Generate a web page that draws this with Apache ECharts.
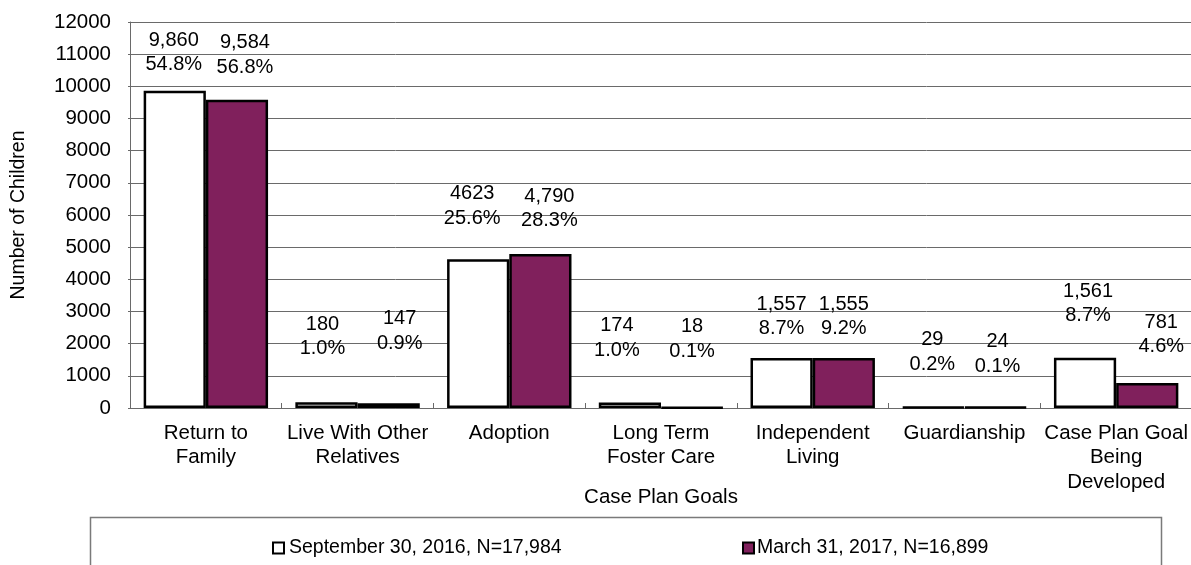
<!DOCTYPE html>
<html>
<head>
<meta charset="utf-8">
<script src="https://cdn.jsdelivr.net/npm/echarts@6/dist/echarts.min.js"></script>
<style>
html,body{margin:0;padding:0;background:#fff;}
#chart{width:1191px;height:565px;}
</style>
</head>
<body>
<div id="chart"></div>
<script>
// ---- data ----
var categories = ['Return to\nFamily', 'Live With Other\nRelatives', 'Adoption', 'Long Term\nFoster Care', 'Independent\nLiving', 'Guardianship', 'Case Plan Goal\nBeing\nDeveloped'];
var seriesNames = ['September 30, 2016, N=17,984', 'March 31, 2017, N=16,899'];
var sep2016 = [9860, 180, 4623, 174, 1557, 29, 1561];
var mar2017 = [9584, 147, 4790, 18, 1555, 24, 781];
var sep2016CountLabels = ['9,860', '180', '4623', '174', '1,557', '29', '1,561'];
var mar2017CountLabels = ['9,584', '147', '4,790', '18', '1,555', '24', '781'];
var sep2016Pct = ['54.8%', '1.0%', '25.6%', '1.0%', '8.7%', '0.2%', '8.7%'];
var mar2017Pct = ['56.8%', '0.9%', '28.3%', '0.1%', '9.2%', '0.1%', '4.6%'];
var yTicks = {min: 0, max: 12000, interval: 1000};
var yAxisTitle = 'Number of Children';
var xAxisTitle = 'Case Plan Goals';

// ---- label styling (manual label placement, like the source) ----
var sepLabelLift = [14, 41, 29, 40, 17, 30, 30];
var sepLabelShift = [-1, -4, -6, -13, 0, -1, 3];
var marLabelLift = [20, 48, 21, 43, 17, 28, 24];
var marLabelShift = [8, 11, 9, 0, 0, 2, 14];

var FONT = 'Liberation Sans, Arial, sans-serif';

function buildData(vals, counts, pcts, lift, shift) {
  return vals.map(function (v, i) {
    return {
      value: v,
      label: {
        formatter: counts[i] + '\n' + pcts[i],
        distance: lift[i],
        offset: [shift[i], 0]
      }
    };
  });
}

var chart = echarts.init(document.getElementById('chart'));
var labelBase = {
  show: true,
  position: 'top',
  color: '#000',
  fontFamily: FONT,
  fontSize: 20,
  lineHeight: 24.5,
  align: 'center'
};

var GRID = {left: 130, top: 22, width: 1062, height: 386};

chart.setOption({
  animation: false,
  backgroundColor: '#fff',
  grid: {left: GRID.left, top: GRID.top, width: GRID.width, height: GRID.height, containLabel: false, outerBoundsMode: 'none'},
  legend: [
    {
      data: [{name: seriesNames[0]}],
      left: 267, top: 533,
      itemWidth: 11, itemHeight: 11, itemGap: 0,
      icon: 'rect',
      textStyle: {fontFamily: FONT, fontSize: 19.5, color: '#000'}
    },
    {
      data: [{name: seriesNames[1]}],
      left: 737, top: 533,
      itemWidth: 11, itemHeight: 11, itemGap: 0,
      icon: 'rect',
      textStyle: {fontFamily: FONT, fontSize: 19.5, color: '#000', padding: [0, 0, 0, -2]}
    }
  ],
  graphic: [
    {
      type: 'rect',
      shape: {x: 90.5, y: 517.5, width: 1071, height: 60},
      style: {fill: 'none', stroke: '#7a7a7a', lineWidth: 1.5},
      silent: true
    },
    {
      type: 'text',
      x: GRID.left + GRID.width / 2, y: 497,
      style: {text: xAxisTitle, fontFamily: FONT, fontSize: 20.5, fill: '#000', align: 'center', verticalAlign: 'middle'}
    }
  ],
  xAxis: {
    type: 'category',
    data: categories,
    axisLine: {show: true, lineStyle: {color: '#6a6a6a', width: 1}},
    axisTick: {show: true, inside: true, length: 5, alignWithLabel: false, lineStyle: {color: '#6a6a6a'}},
    axisLabel: {
      interval: 0, margin: 13,
      fontFamily: FONT, fontSize: 20.5, lineHeight: 24.5, color: '#000',
      verticalAlign: 'top'
    },
    splitLine: {show: false}
  },
  yAxis: {
    type: 'value',
    min: yTicks.min, max: yTicks.max, interval: yTicks.interval,
    name: yAxisTitle,
    nameLocation: 'middle',
    nameGap: 101,
    nameRotate: 90,
    nameTextStyle: {fontFamily: FONT, fontSize: 19.5, color: '#000'},
    axisLine: {show: true, lineStyle: {color: '#6a6a6a', width: 1}},
    axisTick: {show: true, length: 2, lineStyle: {color: '#6a6a6a'}},
    axisLabel: {fontFamily: FONT, fontSize: 20.5, color: '#000', margin: 19, formatter: function (v) { return String(v); }},
    splitLine: {show: true, lineStyle: {color: '#6a6a6a', width: 1}}
  },
  series: [
    {
      name: seriesNames[0],
      type: 'bar',
      barGap: '0%',
      barCategoryGap: '18%',
      data: buildData(sep2016, sep2016CountLabels, sep2016Pct, sepLabelLift, sepLabelShift),
      itemStyle: {color: '#ffffff', borderColor: '#000', borderWidth: 2.5},
      label: labelBase
    },
    {
      name: seriesNames[1],
      type: 'bar',
      barGap: '0%',
      barCategoryGap: '18%',
      data: buildData(mar2017, mar2017CountLabels, mar2017Pct, marLabelLift, marLabelShift),
      itemStyle: {color: '#80205c', borderColor: '#000', borderWidth: 2.5},
      label: labelBase
    }
  ]
});
</script>
</body>
</html>
